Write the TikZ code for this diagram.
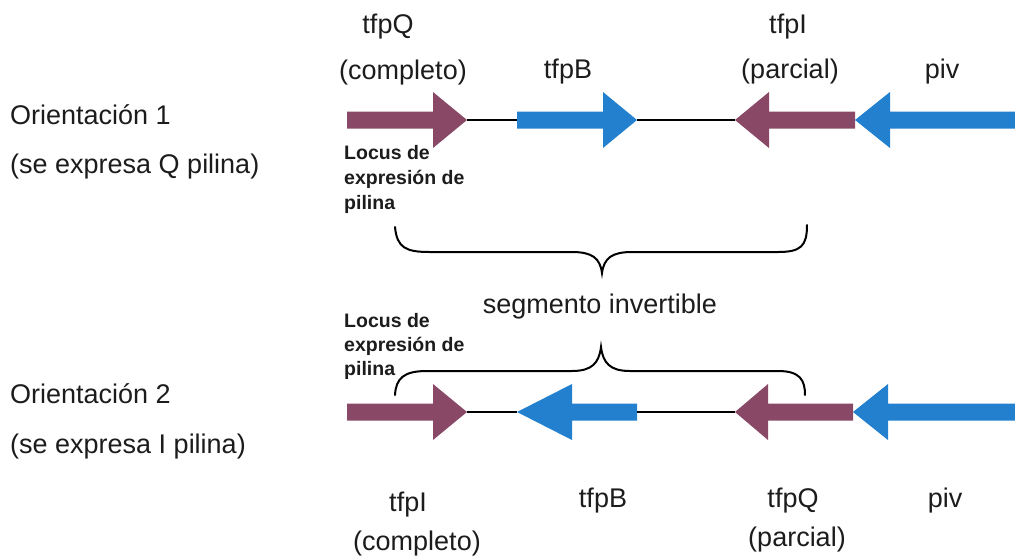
\documentclass[tikz,border=0pt]{standalone}
\usepackage{fontspec}
\setmainfont{Liberation Sans}
\newfontfamily\locusfont{Liberation Sans}[BoldFont={* Bold}]
\definecolor{genemaroon}{RGB}{136,72,102}
\definecolor{geneblue}{RGB}{34,128,206}
\definecolor{ink}{RGB}{28,28,28}
% gene arrow: tail x, head-base x, tip x, centre y, colour
\newcommand\gene[5]{%
  \fill[#5] (#1,#4-8.5) -- (#2,#4-8.5) -- (#2,#4-28) -- (#3,#4)
    -- (#2,#4+28) -- (#2,#4+8.5) -- (#1,#4+8.5) -- cycle;}
\begin{document}
\begin{tikzpicture}[x=1pt,y=-1pt,
  lbl/.style={inner sep=0pt,text=ink,font=\fontsize{27}{31}\selectfont,anchor=base},
  side/.style={lbl,anchor=base west},
  locus/.style={inner sep=0pt,text=ink,anchor=base west,
    font=\locusfont\bfseries\fontsize{19.5}{24}\selectfont},
  dna/.style={draw=black,line width=2pt},
  brace/.style={draw=black,line width=2pt,line cap=round}]
\useasboundingbox (0,0) rectangle (1015,558);

% ---- orientation 1 ----
\gene{347}{433}{467}{120}{genemaroon}
\gene{517}{603}{637}{120}{geneblue}
\gene{855}{769}{735}{120}{genemaroon}
\gene{1015}{890}{855}{120}{geneblue}
\coordinate (q1tip) at (467,120);
\coordinate (b1tail) at (517,120);
\coordinate (b1tip) at (637,120);
\coordinate (i1tip) at (735,120);
\draw[dna] (q1tip) -- (b1tail);
\draw[dna] (b1tip) -- (i1tip);

\node[side] (or1) at (10,124) {Orientación 1};
\node[side] (or1b) at (10,173) {(se expresa Q pilina)};
\node[lbl] (q1name) at (388,33) {tfpQ};
\node[lbl] (q1state) at (403,79) {(completo)};
\node[lbl] (b1name) at (568,78) {tfpB};
\node[lbl] (i1name) at (788,33) {tfpI};
\node[lbl] (i1state) at (790,78) {(parcial)};
\node[lbl] (piv1) at (942,78) {piv};
\node[locus] (loc1a) at (344,159) {Locus de};
\node[locus] (loc1b) at (344,184) {expresión de};
\node[locus] (loc1c) at (344,209) {pilina};

% brace under the invertible segment
\draw[brace] (395,227) .. controls (397,248) and (406,252) .. (430,252)
  -- (572,252) .. controls (592,252) and (600,258) .. (602,273)
  .. controls (604,258) and (612,252) .. (632,252)
  -- (778,252) .. controls (801,252) and (807,246) .. (807,225);
\node[lbl] (seg) at (600,313) {segmento invertible};

% ---- orientation 2 ----
\draw[brace] (395,395) .. controls (396,378) and (404,371) .. (427,371)
  -- (572,371) .. controls (592,371) and (599,363) .. (601,347)
  .. controls (603,363) and (610,371) .. (630,371)
  -- (778,371) .. controls (800,371) and (805,380) .. (805,395);

\gene{347}{433}{467}{412}{genemaroon}
\gene{637}{572}{517}{412}{geneblue}
\gene{853}{768}{735}{412}{genemaroon}
\gene{1015}{888}{853}{412}{geneblue}
\coordinate (i2tip) at (467,412);
\coordinate (b2tip) at (517,412);
\coordinate (b2tail) at (637,412);
\coordinate (q2tip) at (735,412);
\draw[dna] (i2tip) -- (b2tip);
\draw[dna] (b2tail) -- (q2tip);

\node[locus] (loc2a) at (344,327) {Locus de};
\node[locus] (loc2b) at (344,351) {expresión de};
\node[locus] (loc2c) at (344,375) {pilina};
\node[side] (or2) at (10,403) {Orientación 2};
\node[side] (or2b) at (10,453) {(se expresa I pilina)};
\node[lbl] (i2name) at (408,511) {tfpI};
\node[lbl] (i2state) at (417,550) {(completo)};
\node[lbl] (b2name) at (603,507) {tfpB};
\node[lbl] (q2name) at (793,507) {tfpQ};
\node[lbl] (q2state) at (797,546) {(parcial)};
\node[lbl] (piv2) at (945,507) {piv};
\end{tikzpicture}
\end{document}
